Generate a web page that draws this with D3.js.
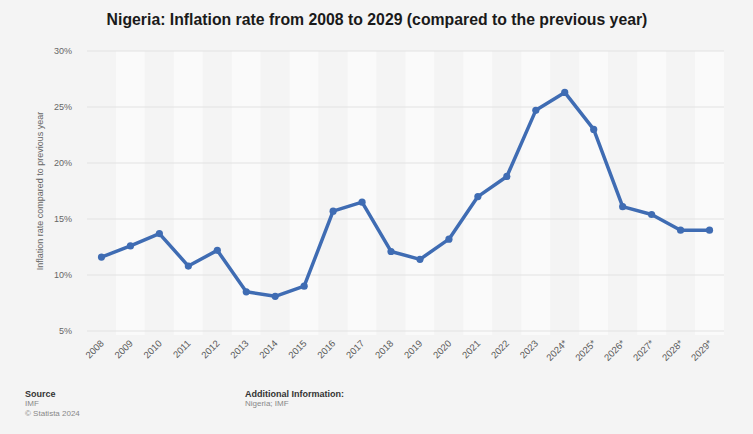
<!DOCTYPE html>
<html><head><meta charset="utf-8">
<script src="https://cdn.jsdelivr.net/npm/d3@7/dist/d3.min.js"></script>
<style>
html,body{margin:0;padding:0;background:#f4f4f4;}
svg{display:block;font-family:"Liberation Sans",Arial,sans-serif;}
</style></head>
<body><svg id="c" width="753" height="434"></svg>
<script>
const years = ["2008","2009","2010","2011","2012","2013","2014","2015","2016","2017","2018","2019","2020","2021","2022","2023","2024*","2025*","2026*","2027*","2028*","2029*"];
const inflation = [11.6,12.6,13.7,10.8,12.2,8.5,8.1,9.0,15.7,16.5,12.1,11.4,13.2,17.0,18.8,24.7,26.3,23.0,16.1,15.4,14.0,14.0];
const yTicks = [5,10,15,20,25,30];

const svg = d3.select("#c");
const pL = 87, pR = 724, pT = 51, pB = 331;

const x = d3.scaleBand().domain(years).range([pL, pR]).padding(0);
const y = d3.scaleLinear().domain([5, 30]).range([pB, pT]);

// background stripes
svg.append("g").selectAll("rect").data(years).join("rect")
  .attr("x", d => x(d)).attr("y", pT).attr("width", x.bandwidth()).attr("height", pB - pT + 4)
  .attr("fill", (d, i) => i % 2 ? "#fafafa" : "#f4f4f4");

// gridlines
svg.append("g").selectAll("line").data(yTicks).join("line")
  .attr("x1", pL).attr("x2", pR).attr("y1", d => y(d)).attr("y2", d => y(d))
  .attr("stroke", "#e2e2e2").attr("stroke-width", 1);

// y axis
const yAxis = svg.append("g").attr("transform", `translate(${pL},0)`)
  .call(d3.axisLeft(y).tickValues(yTicks).tickFormat(d => d + "%").tickSize(0).tickPadding(15));
yAxis.select(".domain").remove();
yAxis.selectAll("text").attr("fill", "#666").style("font-size", "9px");

// x axis
const xAxis = svg.append("g").attr("transform", `translate(0,${pB})`)
  .call(d3.axisBottom(x).tickSize(0).tickPadding(0));
xAxis.select(".domain").remove();
xAxis.selectAll("text").attr("fill", "#5a5a5a").style("font-size", "9.5px")
  .attr("text-anchor", "end").attr("dy", null).attr("y", 0)
  .attr("transform", "translate(3,13) rotate(-45)");

// y title
svg.append("text").attr("transform", "translate(43,191) rotate(-90)")
  .attr("text-anchor", "middle").attr("fill", "#666").style("font-size", "9px")
  .text("Inflation rate compared to previous year");

// line
const cx = d => x(d) + x.bandwidth() / 2;
const line = d3.line().x((d, i) => cx(years[i])).y(d => y(d));
svg.append("path").datum(inflation).attr("d", line)
  .attr("fill", "none").attr("stroke", "#3f6cb3").attr("stroke-width", 3.5).attr("stroke-linejoin", "round");
svg.append("g").selectAll("circle").data(inflation).join("circle")
  .attr("cx", (d, i) => cx(years[i])).attr("cy", d => y(d)).attr("r", 3.6).attr("fill", "#3f6cb3");

// title
svg.append("text").attr("x", 377).attr("y", 25).attr("text-anchor", "middle")
  .attr("fill", "#1a1a1a").style("font-size", "15.8px").style("font-weight", "bold")
  .text("Nigeria: Inflation rate from 2008 to 2029 (compared to the previous year)");

// footer
const foot = svg.append("g").style("font-size", "9px");
foot.append("text").attr("x", 25).attr("y", 397).attr("font-weight", "bold").attr("fill", "#333").text("Source");
foot.append("text").attr("x", 25).attr("y", 406).attr("fill", "#888").style("font-size", "8px").text("IMF");
foot.append("text").attr("x", 25).attr("y", 416).attr("fill", "#888").style("font-size", "8px").text("© Statista 2024");
foot.append("text").attr("x", 245).attr("y", 397).attr("font-weight", "bold").attr("fill", "#333").text("Additional Information:");
foot.append("text").attr("x", 245).attr("y", 406).attr("fill", "#888").style("font-size", "8px").text("Nigeria; IMF");
</script></body></html>
